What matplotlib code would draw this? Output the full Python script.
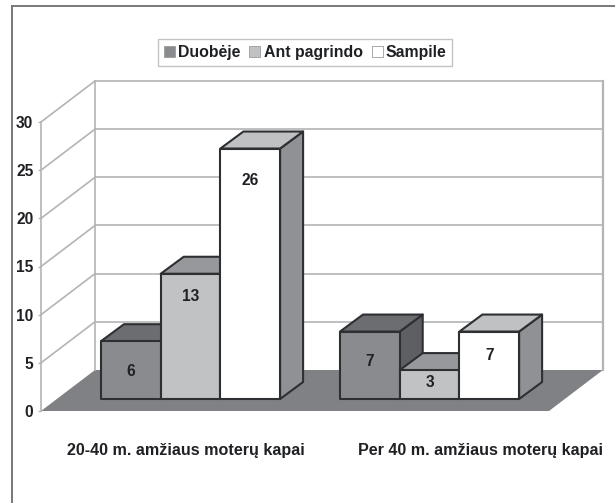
import matplotlib
matplotlib.use('Agg')
import matplotlib.pyplot as plt
from matplotlib.lines import Line2D
from matplotlib.patches import Patch

plt.rcParams['font.family'] = ['Liberation Sans', 'DejaVu Sans']
plt.rcParams['font.weight'] = 'bold'

# Data
group_names = ['20-40 m. amžiaus moterų kapai', 'Per 40 m. amžiaus moterų kapai']
series_names = ['Duobėje', 'Ant pagrindo', 'Sampile']
duobeje = [6, 7]
ant_pagrindo = [13, 3]
sampile = [26, 7]
y_ticks = [0, 5, 10, 15, 20, 25, 30]

# Colours for each series: front, top, side
front_colors = ['#8a8b8e', '#c1c2c4', '#ffffff']
top_colors = ['#6c6d70', '#97989b', '#c0c1c3']
side_colors = ['#5e5f62', '#8f9094', '#909195']
edge = '#2e2f32'
wall = '#b3b4b6'

# Layout, x is in image pixels and y in chart units
px_per_unit = 9.63
wall_dx = 54
wall_dy = 41 / px_per_unit
floor_right = 549
bar_dx = 23
bar_dy = 17 / px_per_unit
bar_base = 12 / px_per_unit
bar_w = 59.7
group_left = [101, 340]
label_x = [186, 480]
label_drop = [[30, 23, 32], [30, 12, 24]]

fig = plt.figure(figsize=(6.15, 5.03), dpi=100)
ax = fig.add_axes([41 / 615, 1 - 411 / 503, 562 / 615, 289 / 503])
ax.set_xlim(41, 603)
ax.set_ylim(0, 30)
ax.patch.set_visible(False)

# outer frame only shows on top and left
fig.add_artist(Line2D([12 / 615, 12 / 615], [0, 1 - 6 / 503], color='#77787b', lw=1.4))
fig.add_artist(Line2D([12 / 615, 1], [1 - 6 / 503, 1 - 6 / 503], color='#77787b', lw=1.4))

# Floor
ax.fill([41, floor_right, 603, 41 + wall_dx], [0, 0, wall_dy, wall_dy],
        color='#808184', lw=0, clip_on=False, zorder=1)

# Walls and gridlines
for v in y_ticks:
    if v > 0:
        ax.plot([41 + wall_dx, 603], [v + wall_dy, v + wall_dy], color=wall, lw=1.2, clip_on=False, zorder=1)
        ax.plot([41, 41 + wall_dx], [v, v + wall_dy], color=wall, lw=1.2, clip_on=False, zorder=1)
ax.plot([41 + wall_dx, 41 + wall_dx], [wall_dy, 30 + wall_dy], color=wall, lw=1.2, clip_on=False, zorder=1)
ax.plot([603, 603], [wall_dy, 30 + wall_dy], color=wall, lw=1.6, clip_on=False, zorder=1)


def draw_bar(x, value, s, order):
    top = bar_base + value
    r = x + bar_w
    style = dict(edgecolor=edge, lw=1.5, joinstyle='round', clip_on=False, zorder=order)
    ax.fill([r, r + bar_dx, r + bar_dx, r], [bar_base, bar_base + bar_dy, top + bar_dy, top],
            facecolor=side_colors[s], **style)
    ax.fill([x, r, r + bar_dx, x + bar_dx], [top, top, top + bar_dy, top + bar_dy],
            facecolor=top_colors[s], **style)
    ax.fill([x, r, r, x], [bar_base, bar_base, top, top], facecolor=front_colors[s], **style)


order = 2
for g, left in enumerate(group_left):
    for s, values in enumerate([duobeje, ant_pagrindo, sampile]):
        x = left + s * bar_w
        draw_bar(x, values[g], s, order)
        ax.annotate(str(values[g]), (x + bar_w / 2, bar_base + values[g]),
                    xytext=(0, -label_drop[g][s] * 0.72), textcoords='offset points',
                    ha='center', va='center', fontsize=11.2, color='#1f2023',
                    annotation_clip=False, zorder=50)
        order += 1

# Axes
for name in ['top', 'right', 'bottom']:
    ax.spines[name].set_visible(False)
ax.spines['left'].set_color(wall)
ax.spines['left'].set_linewidth(1.2)
ax.set_yticks(y_ticks)
ax.tick_params(axis='y', length=2.5, width=1, color=wall, pad=3, labelsize=11.2, labelcolor='#1f2023')
ax.set_xticks(label_x)
ax.set_xticklabels(group_names)
ax.tick_params(axis='x', length=0, pad=23, labelsize=11.6, labelcolor='#1f2023')

# Legend
handles = [Patch(facecolor=c, edgecolor='#9a9b9d', lw=0.6, label=n) for c, n in zip(front_colors, series_names)]
ax.legend(handles=handles, ncol=3, loc='center left', bbox_to_anchor=(158 / 615, 1 - 52.5 / 503),
          bbox_transform=fig.transFigure, frameon=True, fancybox=False, edgecolor='#b3b4b6',
          fontsize=11.4, handlelength=0.7, handleheight=0.7, handletextpad=0.2,
          columnspacing=0.57, borderpad=0.36, borderaxespad=0,
          labelcolor='#1f2023').set_zorder(60)

fig.savefig('out.png', dpi=100, facecolor='white')
